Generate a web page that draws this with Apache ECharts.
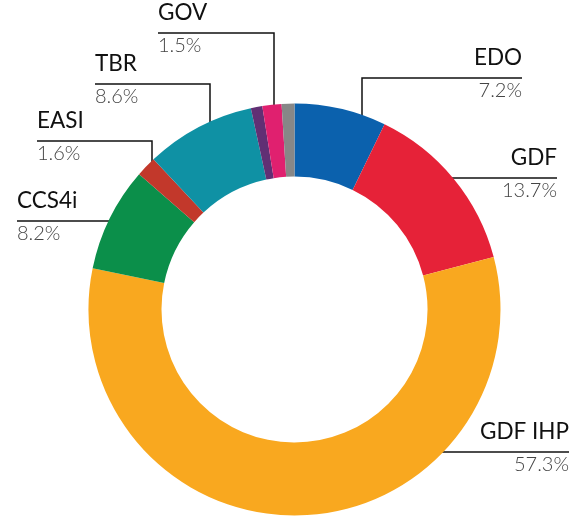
<!DOCTYPE html>
<html>
<head>
<meta charset="utf-8">
<script src="https://cdn.jsdelivr.net/npm/echarts@6/dist/echarts.min.js"></script>
<style>
  html, body { margin: 0; padding: 0; background: #fff; }
  #chart { width: 579px; height: 516px; }
</style>
</head>
<body>
<div id="chart"></div>
<script>
// segments, clockwise from 12 o'clock
var names = ['EDO', 'GDF', 'GDF IHP', 'CCS4i', 'EASI', 'TBR', 'Other A', 'GOV', 'Other B'];
var shares = [7.2, 13.7, 57.3, 8.2, 1.6, 8.6, 0.9, 1.5, 1.0];
var shown = [true, true, true, true, true, true, false, true, false];
var colors = ['#0b61ad', '#e62238', '#f9a81f', '#0b8f4a', '#c2382b', '#0f91a4', '#612f74', '#e0206f', '#878787'];

// ring geometry
var CX = 294.5, CY = 309.5, R_IN = 133, R_OUT = 206;

// label spots: text edge x, underline y, elbow x (null = straight line), reach = radius where leader stops
var spots = [
    { side: 'right', x: 522, y: 78, elbow: 362, reach: 191 },
    { side: 'right', x: 557, y: 178, elbow: null, reach: 197 },
    { side: 'right', x: 569, y: 452, elbow: null, reach: 187 },
    { side: 'left', x: 17, y: 221, elbow: null, reach: 197 },
    { side: 'left', x: 37, y: 141, elbow: 152, reach: 194 },
    { side: 'left', x: 95, y: 84, elbow: 210, reach: 191 },
    null,
    { side: 'left', x: 158, y: 33, elbow: 274, reach: 191 },
    null
];

var myChart = echarts.init(document.getElementById('chart'), null, { renderer: 'canvas' });

var data = names.map(function (n, i) {
    return {
        name: n,
        value: shares[i],
        itemStyle: { color: colors[i] },
        label: { show: shown[i] },
        labelLine: { show: shown[i] }
    };
});

var option = {
    backgroundColor: '#fff',
    animation: false,
    series: [
        {
            type: 'pie',
            center: [CX, CY],
            radius: [R_IN, R_OUT],
            startAngle: 90,
            clockwise: true,
            avoidLabelOverlap: false,
            silent: true,
            data: data,
            label: {
                position: 'outside',
                formatter: function (p) {
                    return '{n|' + p.name + '}\n{v|' + shares[p.dataIndex].toFixed(1) + '%}';
                },
                rich: {
                    n: { fontFamily: 'Lato', fontSize: 22.5, fontWeight: 400, color: '#111', lineHeight: 34 },
                    v: { fontFamily: 'Lato', fontSize: 20, fontWeight: 300, color: '#444', lineHeight: 32 }
                }
            },
            labelLine: {
                show: true,
                lineStyle: { color: '#111', width: 1.5 }
            },
            labelLayout: function (params) {
                var s = spots[params.dataIndex];
                if (!s) return {};
                var start, pts;
                if (s.elbow !== null) {
                    var dx = s.elbow - CX;
                    start = [s.elbow, CY - Math.sqrt(s.reach * s.reach - dx * dx)];
                    pts = [start, [s.elbow, s.y], [s.x, s.y]];
                } else {
                    var dy = s.y - CY;
                    var off = Math.sqrt(s.reach * s.reach - dy * dy);
                    var sx = s.side === 'right' ? CX + off : CX - off;
                    pts = [[sx, s.y], [sx, s.y], [s.x, s.y]];
                }
                return {
                    x: s.x,
                    y: s.y - 37,
                    align: s.side,
                    verticalAlign: 'top',
                    labelLinePoints: pts
                };
            }
        }
    ]
};

myChart.setOption(option);
</script>
</body>
</html>
